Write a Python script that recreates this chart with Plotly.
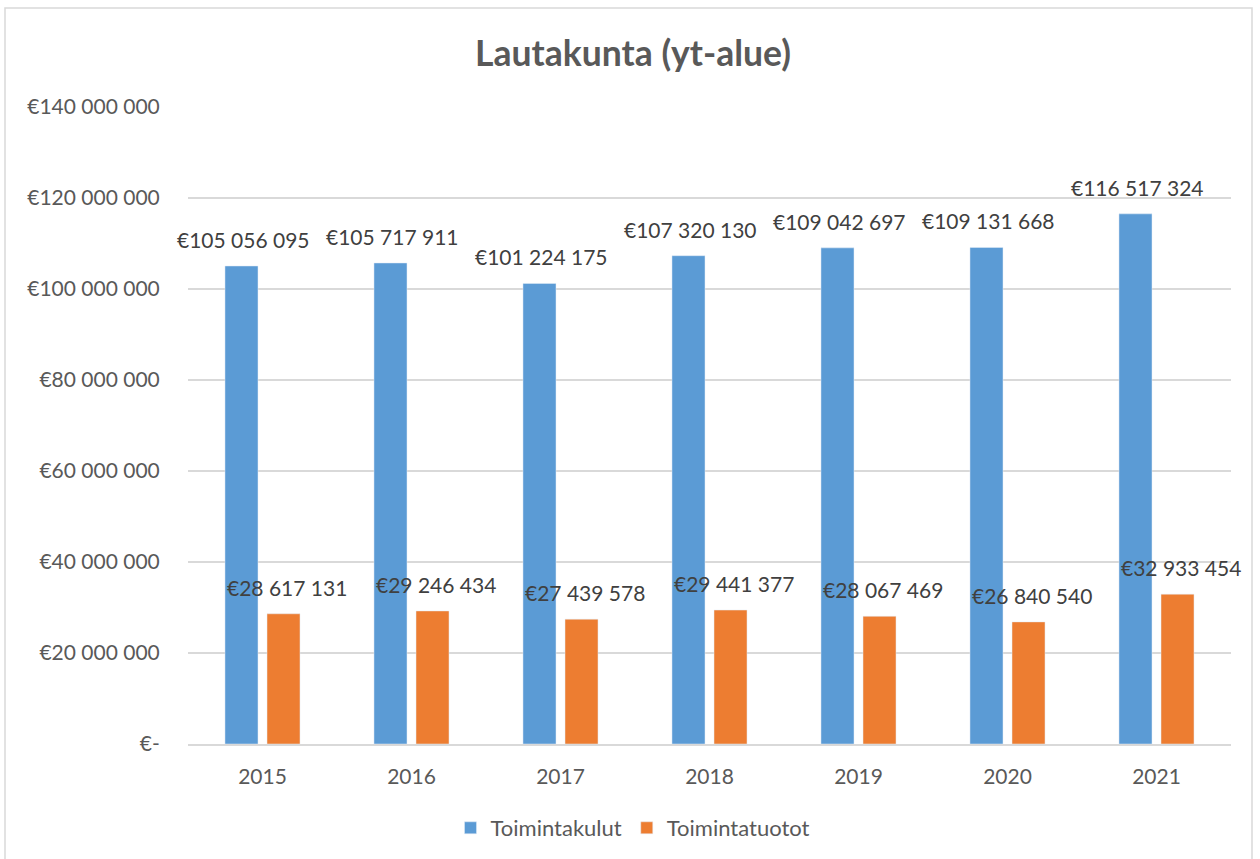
import plotly.graph_objects as go

years = ["2015", "2016", "2017", "2018", "2019", "2020", "2021"]
kulut = [105056095, 105717911, 101224175, 107320130, 109042697, 109131668, 116517324]
tuotot = [28617131, 29246434, 27439578, 29441377, 28067469, 26840540, 32933454]
tick_vals = [0, 20000000, 40000000, 60000000, 80000000, 100000000, 120000000, 140000000]
tick_text = ["€-", "€20 000 000", "€40 000 000", "€60 000 000", "€80 000 000",
             "€100 000 000", "€120 000 000", "€140 000 000"]


def fmt(v):
    return "€" + f"{v:,}".replace(",", " ")


FONT = "Lato"
TXT = "#404040"
AX = "#595959"
BLUE = "#5B9BD5"
ORANGE = "#ED7D31"

fig = go.Figure()
fig.add_trace(go.Bar(name="Toimintakulut", x=years, y=kulut, marker=dict(color=BLUE)))
fig.add_trace(go.Bar(name="Toimintatuotot", x=years, y=tuotot, marker=dict(color=ORANGE)))

# data labels (x given as category index so numeric-looking names are not misread)
for series, shift in ((kulut, -19), (tuotot, 24)):
    for i, v in enumerate(series):
        fig.add_annotation(x=i, y=v, xref="x", yref="y", text=fmt(v), showarrow=False,
                           xanchor="center", yanchor="bottom", xshift=shift, yshift=12,
                           font=dict(family=FONT, size=21, color=TXT))

L, R, T, B = 188, 1231, 107, 744
W, H = 1260, 859
pw, ph = R - L, B - T


def px(x):
    return (x - L) / pw


def py(y):
    return (B - y) / ph


fig.add_shape(type="rect", xref="paper", yref="paper",
              x0=px(5), x1=px(1252), y0=py(900), y1=py(8),
              line=dict(color="#D9D9D9", width=1.5), fillcolor="rgba(0,0,0,0)", layer="below")

fig.update_layout(
    width=W, height=H,
    margin=dict(l=L, r=W - R, t=T, b=H - B, autoexpand=False),
    paper_bgcolor="white", plot_bgcolor="white",
    barmode="group", bargap=0.436, bargroupgap=0.214,
    title=dict(text="<b>Lautakunta (yt-alue)</b>", x=633 / W, xref="container", xanchor="center",
               y=1 - 54 / H, yref="container", yanchor="middle",
               font=dict(family=FONT, size=35.5, color=AX)),
    font=dict(family=FONT, color=AX),
    showlegend=True,
    legend=dict(orientation="h", xref="container", x=633 / W, xanchor="center",
                yref="container", y=1 - 828 / H, yanchor="middle",
                font=dict(family=FONT, size=22, color=AX),
                itemwidth=30, traceorder="normal"),
    xaxis=dict(type="category", range=[-0.5, len(years) - 0.5],
               showgrid=False, showline=True, linecolor="#D9D9D9", linewidth=1.5,
               ticks="outside", ticklen=13, tickcolor="rgba(0,0,0,0)",
               tickfont=dict(family=FONT, size=21, color=AX)),
    yaxis=dict(range=[0, 140000000], tickvals=tick_vals, ticktext=tick_text,
               showgrid=True, gridcolor="#D9D9D9", gridwidth=1.5, zeroline=False,
               showline=False, ticks="outside", ticklen=23, tickcolor="rgba(0,0,0,0)",
               tickfont=dict(family=FONT, size=21, color=AX)),
)

fig.write_html("out.html", config={"displayModeBar": False},
               post_script="document.body.style.margin='0px';")
